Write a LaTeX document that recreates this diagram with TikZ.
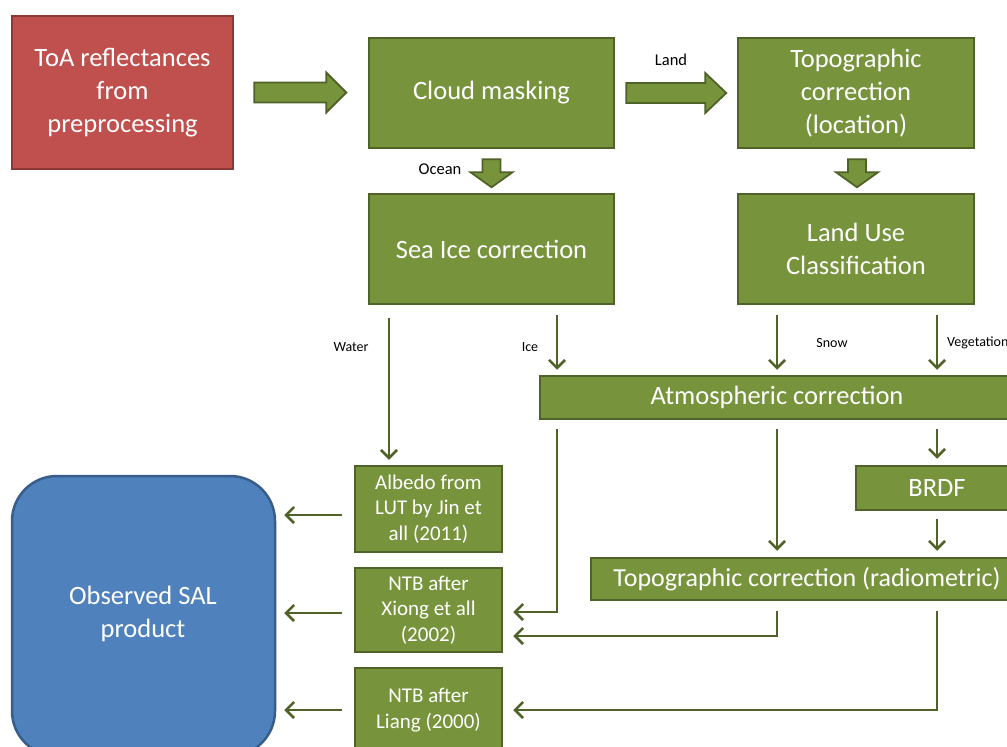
\documentclass[tikz,border=0pt]{standalone}
\usepackage{fontspec}
\setmainfont{Carlito}
\usetikzlibrary{arrows.meta}
\definecolor{gfill}{HTML}{77933C}
\definecolor{gline}{HTML}{4F6228}
\definecolor{rfill}{HTML}{C0504D}
\definecolor{rline}{HTML}{8C3836}
\definecolor{bfill}{HTML}{4F81BD}
\definecolor{bline}{HTML}{385D8A}
\begin{document}
\begin{tikzpicture}[x=1pt,y=-1pt,
  box/.style={draw=gline, line width=2.5pt, fill=gfill, text=white, align=center, inner sep=0pt,
    font=\fontsize{26.5}{33}\selectfont},
  smallbox/.style={box, font=\fontsize{21}{25.5}\selectfont},
  redbox/.style={box, draw=rline, fill=rfill},
  bluebox/.style={box, draw=bline, fill=bfill, rounded corners=45pt},
  arr/.style={draw=gline, line width=2.6pt, -{Straight Barb[length=8pt,width=16pt]}},
  barrow/.style={draw=gline, line width=1.8pt, fill=gfill, line join=miter},
  elab/.style={font=\fontsize{16.5}{19}\selectfont, text=black, inner sep=0pt},
  slab/.style={font=\fontsize{14}{16}\selectfont, text=black, inner sep=0pt}]
\useasboundingbox (0,0) rectangle (1007,747);
\clip (0,0) rectangle (1007,747);
\fill[white] (0,0) rectangle (1007,747);

% nodes
\node[redbox, minimum width=221pt, minimum height=153pt] (toa) at (122.5,92.5) {ToA reflectances\\from\\preprocessing};
\node[box, minimum width=245pt, minimum height=110pt] (cloud) at (491.5,93) {Cloud masking};
\node[box, minimum width=236pt, minimum height=110pt] (topo) at (856,93) {Topographic\\correction\\(location)};
\node[box, minimum width=245pt, minimum height=110pt] (seaice) at (491.5,249) {Sea Ice correction};
\node[box, minimum width=236pt, minimum height=110pt] (landuse) at (856,249) {Land Use\\Classification};
\node[box, minimum width=474pt, minimum height=43pt] (atm) at (777,397.5) {Atmospheric correction};
\node[box, minimum width=162pt, minimum height=44pt] (brdf) at (937,488) {BRDF};
\node[box, minimum width=432pt, minimum height=42pt, font=\fontsize{26}{33}\selectfont] (radio) at (807,579) {Topographic correction (radiometric)};
\node[smallbox, minimum width=147pt, minimum height=86pt] (albedo) at (428.5,509) {Albedo from\\LUT by Jin et\\all (2011)};
\node[smallbox, minimum width=147pt, minimum height=84pt] (xiong) at (428.5,610) {NTB after\\Xiong et all\\(2002)};
\node[smallbox, minimum width=147pt, minimum height=84pt] (liang) at (428.5,710) {NTB after\\Liang (2000)};
\node[bluebox, minimum width=263pt, minimum height=280pt] (sal) at (143.5,616) {};
\node[text=white, align=center, font=\fontsize{26.5}{33}\selectfont] (saltext) at (143,614) {Observed SAL\\product};

% block arrows
\draw[barrow] ([xshift=20pt]toa.east) ++(0,-10) -- ++(72,0) -- ++(0,-10) -- ++(20,20) -- ++(-20,20) -- ++(0,-10) -- ++(-72,0) -- cycle;
\draw[barrow] ([xshift=11pt]cloud.east) ++(0,-10) -- ++(79,0) -- ++(0,-10) -- ++(21,20) -- ++(-21,20) -- ++(0,-10) -- ++(-79,0) -- cycle;
\draw[barrow] ([yshift=-10pt]cloud.south) ++(-9,0) -- ++(0,13) -- ++(-12,0) -- ++(21,15) -- ++(21,-15) -- ++(-12,0) -- ++(0,-13) -- cycle;
\draw[barrow] ([yshift=-10pt,xshift=1pt]topo.south) ++(-9,0) -- ++(0,13) -- ++(-12,0) -- ++(21,15) -- ++(21,-15) -- ++(-12,0) -- ++(0,-13) -- cycle;

% column coordinates
\coordinate (waterX) at (389,0);
\coordinate (iceX) at (557,0);
\coordinate (snowX) at (777,0);
\coordinate (vegX) at (937,0);

% thin arrows
\draw[arr] ([yshift=-13pt]seaice.south -| waterX) -- ([yshift=5pt]albedo.north -| waterX);
\draw[arr] ([yshift=-10pt]seaice.south -| iceX) -- ([yshift=5pt]atm.north -| iceX);
\draw[arr] ([yshift=-10pt]landuse.south -| snowX) -- ([yshift=5pt]atm.north -| snowX);
\draw[arr] ([yshift=-10pt]landuse.south -| vegX) -- ([yshift=5pt]atm.north -| vegX);
\draw[arr] ([yshift=-9pt]atm.south -| snowX) -- ([yshift=6pt]radio.north -| snowX);
\draw[arr] ([yshift=-9pt]atm.south -| vegX) -- ([yshift=6pt]brdf.north -| vegX);
\draw[arr] ([yshift=-8pt]brdf.south -| vegX) -- ([yshift=6pt]radio.north -| vegX);

\draw[arr] ([yshift=-9pt]atm.south -| iceX) |- ([xshift=10pt,yshift=-2pt]xiong.east);
\draw[arr] ([yshift=-10pt]radio.south -| snowX) |- ([xshift=10pt,yshift=-26pt]xiong.east);
\draw[arr] ([yshift=-10pt]radio.south -| vegX) |- ([xshift=10pt]liang.east);

\draw[arr] ([xshift=-12pt,yshift=-6pt]albedo.west) -- ([xshift=8pt,yshift=-6pt]albedo.west -| sal.east);
\draw[arr] ([xshift=-12pt,yshift=-3pt]xiong.west) -- ([xshift=8pt,yshift=-3pt]xiong.west -| sal.east);
\draw[arr] ([xshift=-12pt]liang.west) -- ([xshift=8pt]liang.west -| sal.east);

% labels
\node[elab] (lland) at (671,60) {Land};
\node[elab] (locean) at (440,169) {Ocean};
\node[slab] (lwater) at (351,347) {Water};
\node[slab] (lice) at (530,347) {Ice};
\node[slab] (lsnow) at (832,343) {Snow};
\node[slab, anchor=west] (lveg) at (947,343) {Vegetation};
\end{tikzpicture}
\end{document}
